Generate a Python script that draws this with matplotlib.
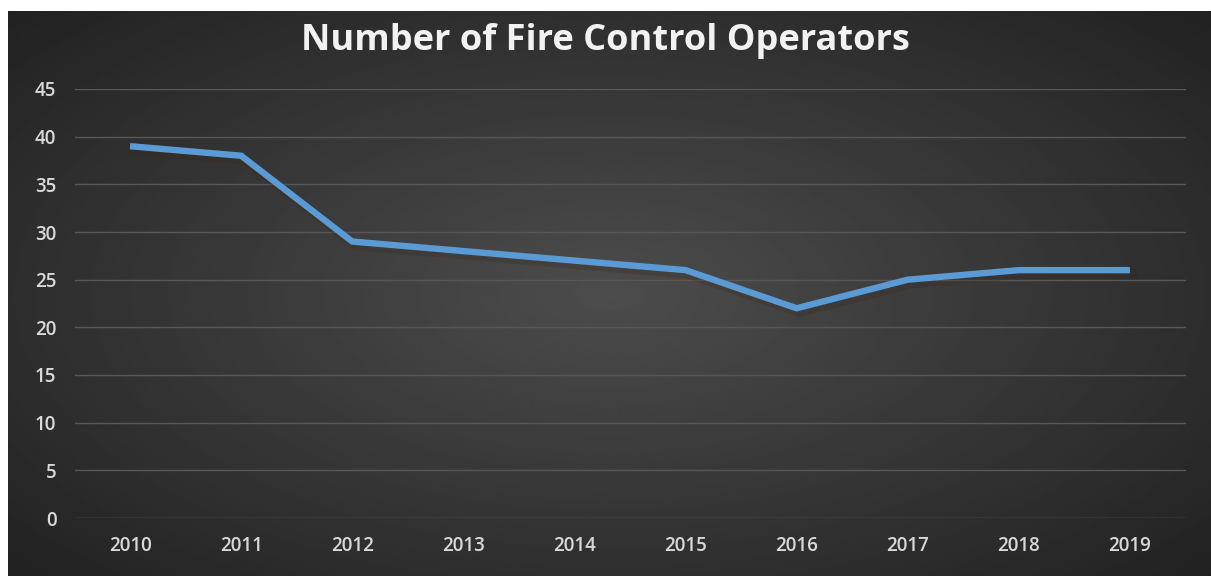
import numpy as np
import matplotlib
matplotlib.use("Agg")
from matplotlib import pyplot as plt

# operators per year
years = ["2010", "2011", "2012", "2013", "2014", "2015", "2016", "2017", "2018", "2019"]
operators = [39, 38, 29, 28, 27, 26, 22, 25, 26, 26]

plt.rcParams['font.family'] = ['Open Sans', 'DejaVu Sans']

W, H = 1211, 576
fig = plt.figure(figsize=(W / 100, H / 100), dpi=100, facecolor="white")

# dark radial background, lighter in the middle
bg = fig.add_axes([8 / W, 0, 1 - 8 / W, 1 - 11 / H])
gx, gy = np.meshgrid(np.linspace(-1, 1, 600), np.linspace(-1, 1, 300))
r = np.sqrt((gx / 1.0) ** 2 + (gy / 1.05) ** 2)
shade = 0.30 - 0.17 * np.clip(r, 0, 1.4) / 1.4
bg.imshow(shade, cmap="gray", vmin=0, vmax=1, aspect="auto",
          extent=[0, 1, 0, 1], interpolation="bilinear")
bg.set_axis_off()

ax = fig.add_axes([74.5 / W, 1 - 518 / H, 1111 / W, 429 / H])
ax.patch.set_alpha(0)

x = np.arange(len(years))
# soft shadow under the line
ax.plot(x + 0.03, np.array(operators) - 0.4, color="#3a2414", lw=7,
        alpha=0.22, solid_joinstyle="miter", zorder=2)
ax.plot(x, operators, color="#5b9bd5", lw=4.6, solid_joinstyle="miter",
        solid_capstyle="butt", zorder=3)

ax.set_xlim(-0.5, len(years) - 0.5)
ax.set_ylim(0, 45)
ax.set_yticks(range(0, 50, 5))
ax.set_xticks(x)
ax.set_xticklabels(years)
ax.grid(axis="y", color="#585858", lw=1.0)
ax.set_axisbelow(True)
for s in ax.spines.values():
    s.set_visible(False)
ax.tick_params(axis="both", length=0, colors="#d9d9d9", labelsize=13.5)
ax.tick_params(axis="y", pad=13)
ax.tick_params(axis="x", pad=13)
for lab in ax.get_xticklabels() + ax.get_yticklabels():
    lab.set_fontweight("semibold")

fig.text(0.5, 1 - 41 / H, "Number of Fire Control Operators", ha="center",
         va="center", color="#f2f2f2", fontsize=26, fontweight="bold")

fig.savefig("out.png", dpi=100, facecolor="white")
